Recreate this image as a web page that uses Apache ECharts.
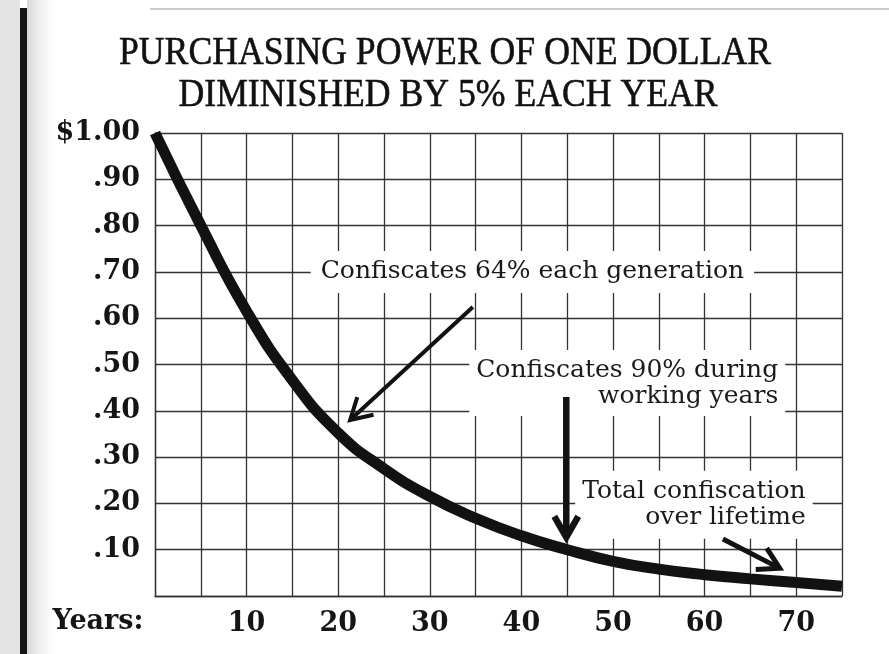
<!DOCTYPE html>
<html>
<head>
<meta charset="utf-8">
<script src="https://cdn.jsdelivr.net/npm/echarts@6/dist/echarts.min.js"></script>
<style>
html, body { margin: 0; padding: 0; background: #fff; }
#chart { width: 889px; height: 654px; }
</style>
</head>
<body>
<div id="chart"></div>
<script>
// purchasing power, every 5 years
var years = [0, 5, 10, 15, 20, 25, 30, 35, 40, 45, 50, 55, 60, 65, 70, 75];
var power = [1.00, 0.80, 0.615, 0.466, 0.352, 0.275, 0.215, 0.168, 0.13, 0.10, 0.075, 0.058, 0.046, 0.037, 0.029, 0.021];

var yLabels = ['', '.10', '.20', '.30', '.40', '.50', '.60', '.70', '.80', '.90', '$1.00'];
var xLabels = ['', '', '10', '', '20', '', '30', '', '40', '', '50', '', '60', '', '70', ''];

var titleLines = ['PURCHASING POWER OF ONE DOLLAR', 'DIMINISHED BY 5% EACH YEAR'];

// notes: text, anchor [year, value], alignment
var noteText = ['Confiscates 64% each generation',
                'Confiscates 90% during\nworking years',
                'Total confiscation\nover lifetime'];
var noteAt = [[41.2, 0.70], [68.8, 0.460], [71.8, 0.197]];
var noteAlign = ['center', 'right', 'right'];

// arrows: tail -> head, in [year, value]
var arrowFrom = [[34.7, 0.624], [44.9, 0.430], [62.0, 0.123]];
var arrowTo = [[21.3, 0.380], [44.9, 0.127], [68.2, 0.060]];

var arrowWidth = [4, 6.5, 5];
var notePad = [[8, 10], [8, 7, 6, 7], [10, 7, 6, 7]];

var labelFont = 'bold 27px "DejaVu Serif"';
var noteFont = '25px "DejaVu Serif"';
var titleFont = '41px "Liberation Serif"';

var myChart = echarts.init(document.getElementById('chart'));

var curveData = years.map(function (y, i) { return [y, power[i]]; });
var noteData = noteAt.map(function (p, i) { return [p[0], p[1], i]; });
var arrowData = arrowFrom.map(function (p, i) { return [p[0], p[1], arrowTo[i][0], arrowTo[i][1], i]; });

var option = {
    backgroundColor: '#ffffff',
    animation: false,
    grid: { left: 155, right: 47, top: 133, bottom: 58 },
    graphic: [
        { type: 'rect', shape: { x: 0, y: 0, width: 20, height: 654 }, style: { fill: '#e4e4e4' }, z: 0 },
        { type: 'rect', shape: { x: 20, y: 8, width: 7, height: 646 }, style: { fill: '#151515' }, z: 0 },
        { type: 'rect', shape: { x: 27, y: 0, width: 35, height: 654 }, z: 0,
          style: { fill: new echarts.graphic.LinearGradient(0, 0, 1, 0, [
              { offset: 0, color: '#d6d6d6' }, { offset: 1, color: 'rgba(255,255,255,0)' }]) } },
        { type: 'line', shape: { x1: 150, y1: 9, x2: 889, y2: 9 }, style: { stroke: '#999', lineWidth: 1 }, z: 0 },
        { type: 'text', x: 445, y: 53, scaleX: 0.87, z: 10,
          style: { text: titleLines[0], font: titleFont, fill: '#111', stroke: '#111', lineWidth: 0.6, align: 'center', verticalAlign: 'middle' } },
        { type: 'text', x: 448, y: 95, scaleX: 0.87, z: 10,
          style: { text: titleLines[1], font: titleFont, fill: '#111', stroke: '#111', lineWidth: 0.6, align: 'center', verticalAlign: 'middle' } },
        { type: 'text', x: 98, y: 622, z: 10,
          style: { text: 'Years:', font: labelFont, fill: '#151515', align: 'center', verticalAlign: 'middle' } }
    ],
    xAxis: {
        type: 'value',
        min: 0,
        max: 75,
        interval: 5,
        axisLine: { show: true, lineStyle: { color: '#333', width: 1.3 } },
        axisTick: { show: false },
        axisLabel: {
            margin: 14,
            fontFamily: 'DejaVu Serif',
            fontWeight: 'bold',
            fontSize: 27,
            color: '#151515',
            formatter: function (v) { return xLabels[Math.round(v / 5)]; }
        },
        splitLine: { show: true, lineStyle: { color: '#333', width: 1.3 } }
    },
    yAxis: {
        type: 'value',
        min: 0,
        max: 1,
        interval: 0.1,
        axisLine: { show: true, lineStyle: { color: '#333', width: 1.3 } },
        axisTick: { show: false },
        axisLabel: {
            margin: 15,
            fontFamily: 'DejaVu Serif',
            fontWeight: 'bold',
            fontSize: 27,
            color: '#151515',
            formatter: function (v) { return yLabels[Math.round(v * 10)]; }
        },
        splitLine: { show: true, lineStyle: { color: '#333', width: 1.3 } }
    },
    series: [
        {
            type: 'custom',
            z: 3,
            clip: false,
            data: noteData,
            renderItem: function (params, api) {
                var p = api.coord([api.value(0), api.value(1)]);
                var i = api.value(2);
                return {
                    type: 'text',
                    x: p[0],
                    y: p[1],
                    style: {
                        text: noteText[i],
                        font: noteFont,
                        fill: '#1a1a1a',
                        align: noteAlign[i],
                        verticalAlign: 'middle',
                        lineHeight: 26,
                        backgroundColor: '#ffffff',
                        padding: notePad[i]
                    }
                };
            }
        },
        {
            type: 'line',
            z: 4,
            data: curveData,
            smooth: 0.5,
            showSymbol: false,
            symbol: 'none',
            clip: false,
            lineStyle: { color: '#121212', width: 11 }
        },
        {
            type: 'custom',
            z: 5,
            clip: false,
            data: arrowData,
            renderItem: function (params, api) {
                var a = api.coord([api.value(0), api.value(1)]);
                var b = api.coord([api.value(2), api.value(3)]);
                var i = api.value(4);
                var ang = Math.atan2(a[1] - b[1], a[0] - b[0]);
                var len = 24, spread = Math.PI / 6;
                var h1 = [b[0] + len * Math.cos(ang + spread), b[1] + len * Math.sin(ang + spread)];
                var h2 = [b[0] + len * Math.cos(ang - spread), b[1] + len * Math.sin(ang - spread)];
                var st = { stroke: '#121212', lineWidth: arrowWidth[i], fill: null, lineJoin: 'miter' };
                return {
                    type: 'group',
                    children: [
                        { type: 'line', shape: { x1: a[0], y1: a[1], x2: b[0] + 3 * Math.cos(ang), y2: b[1] + 3 * Math.sin(ang) }, style: st },
                        { type: 'polyline', shape: { points: [h1, b, h2] }, style: st }
                    ]
                };
            }
        }
    ]
};

myChart.setOption(option);
</script>
</body>
</html>
